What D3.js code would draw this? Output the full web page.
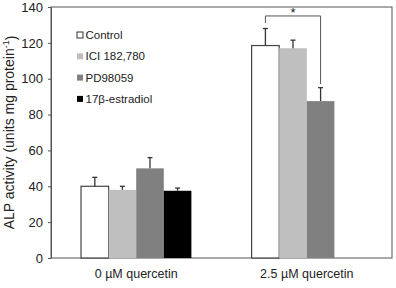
<!DOCTYPE html>
<html>
<head>
<meta charset="utf-8">
<script src="https://cdn.jsdelivr.net/npm/d3@7"></script>
<style>
  body { margin: 0; background: #fff; }
  svg { display: block; font-family: "Liberation Sans", Arial, sans-serif; }
</style>
</head>
<body>
<div id="chart"></div>
<script>
// ALP activity by treatment
const groups = ["0 µM quercetin", "2.5 µM quercetin"];
const treatments = ["Control", "ICI 182,780", "PD98059", "17β-estradiol"];
const colors = ["#ffffff", "#bfbfbf", "#808080", "#000000"];
const means = [[40, 38, 50, 37.5], [118.5, 117, 87.5, null]];
const errs = [[5, 2, 6, 1.5], [9.5, 4.5, 7.5, null]];
const yTicks = [0, 20, 40, 60, 80, 100, 120, 140];

let height = 288,
  width = 396,
  margin = ({ top: 7, right: 4, bottom: 30, left: 51 });

const svg = d3.select("#chart")
  .append("svg")
  .attr("width", width)
  .attr("height", height);

let y = d3.scaleLinear()
  .domain([0, 140])
  .range([height - margin.bottom, margin.top]);

let x0 = d3.scaleBand()
  .domain(groups)
  .range([margin.left, width - margin.right])
  .paddingInner(0.353)
  .paddingOuter(0.176);

let x1 = d3.scaleBand()
  .domain(treatments)
  .range([0, x0.bandwidth()]);

// frame
svg.append("rect")
  .attr("x", margin.left)
  .attr("y", margin.top)
  .attr("width", width - margin.left - margin.right)
  .attr("height", height - margin.top - margin.bottom)
  .attr("fill", "none")
  .attr("stroke", "#555")
  .attr("stroke-width", 1);

// y axis
const yAxis = svg.append("g")
  .attr("transform", `translate(${margin.left},0)`)
  .call(d3.axisLeft(y).tickValues(yTicks).tickSize(3).tickSizeOuter(0).tickPadding(5));
yAxis.select(".domain").attr("stroke", "#555");
yAxis.selectAll(".tick line").attr("stroke", "#555");
yAxis.selectAll("text").attr("font-size", 13).attr("fill", "#222")
  .attr("font-family", "Liberation Sans, Arial, sans-serif");

// x axis labels
const xAxis = svg.append("g")
  .attr("transform", `translate(0,${height - margin.bottom})`)
  .call(d3.axisBottom(x0).tickSize(0).tickPadding(11));
xAxis.select(".domain").remove();
xAxis.selectAll("text").attr("font-size", 12.5).attr("fill", "#222")
  .attr("font-family", "Liberation Sans, Arial, sans-serif");

// bars
const bars = [];
groups.forEach((g, i) => treatments.forEach((t, j) => {
  if (means[i][j] != null) bars.push({ g, t, j, v: means[i][j], e: errs[i][j] });
}));

svg.append("g")
  .selectAll("rect")
  .data(bars)
  .join("rect")
  .attr("x", d => x0(d.g) + x1(d.t))
  .attr("y", d => y(d.v))
  .attr("width", x1.bandwidth())
  .attr("height", d => y(0) - y(d.v))
  .attr("fill", d => colors[d.j])
  .attr("stroke", d => d.j === 0 ? "#444" : "none")
  .attr("stroke-width", 1.2);

// error bars (upper only)
const eb = svg.append("g").attr("stroke", "#333").attr("stroke-width", 1.3);
eb.selectAll("line.v")
  .data(bars)
  .join("line")
  .attr("class", "v")
  .attr("x1", d => x0(d.g) + x1(d.t) + x1.bandwidth() / 2)
  .attr("x2", d => x0(d.g) + x1(d.t) + x1.bandwidth() / 2)
  .attr("y1", d => y(d.v))
  .attr("y2", d => y(d.v + d.e));
eb.selectAll("line.c")
  .data(bars)
  .join("line")
  .attr("class", "c")
  .attr("x1", d => x0(d.g) + x1(d.t) + x1.bandwidth() / 2 - 2.5)
  .attr("x2", d => x0(d.g) + x1(d.t) + x1.bandwidth() / 2 + 2.5)
  .attr("y1", d => y(d.v + d.e))
  .attr("y2", d => y(d.v + d.e));

// significance bracket between Control and PD98059 at 2.5 µM
const cx = t => x0(groups[1]) + x1(t) + x1.bandwidth() / 2;
const bracketY = y(135);
svg.append("path")
  .attr("d", `M${cx("Control")},${y(131)}V${bracketY}H${cx("PD98059")}V${y(97)}`)
  .attr("fill", "none")
  .attr("stroke", "#555")
  .attr("stroke-width", 1);
svg.append("text")
  .attr("x", (cx("Control") + cx("PD98059")) / 2)
  .attr("y", bracketY + 1)
  .attr("text-anchor", "middle")
  .attr("font-size", 13)
  .attr("fill", "#222")
  .text("*");

// legend
const legend = svg.append("g")
  .selectAll("g")
  .data(treatments)
  .join("g")
  .attr("transform", (d, i) => `translate(77,${35 + i * 21.3})`);
legend.append("rect")
  .attr("x", 0).attr("y", -3)
  .attr("width", 6).attr("height", 6)
  .attr("fill", (d, i) => colors[i])
  .attr("stroke", (d, i) => i === 0 ? "#333" : "none");
legend.append("text")
  .attr("x", 8.5)
  .attr("dy", "0.35em")
  .attr("font-size", 11.5)
  .attr("fill", "#222")
  .text(d => d);

// y label
svg.append("text")
  .attr("transform", `translate(9,${(margin.top + height - margin.bottom) / 2}) rotate(-90)`)
  .attr("text-anchor", "middle")
  .attr("dy", "0.35em")
  .attr("font-size", 14)
  .attr("fill", "#222")
  .text("ALP activity (units mg protein")
  .append("tspan").attr("font-size", 9).attr("dy", "-0.5em").text("-1")
  .select(function () { return this.parentNode; })
  .append("tspan").attr("dy", "0.5em").text(")");
</script>
</body>
</html>
